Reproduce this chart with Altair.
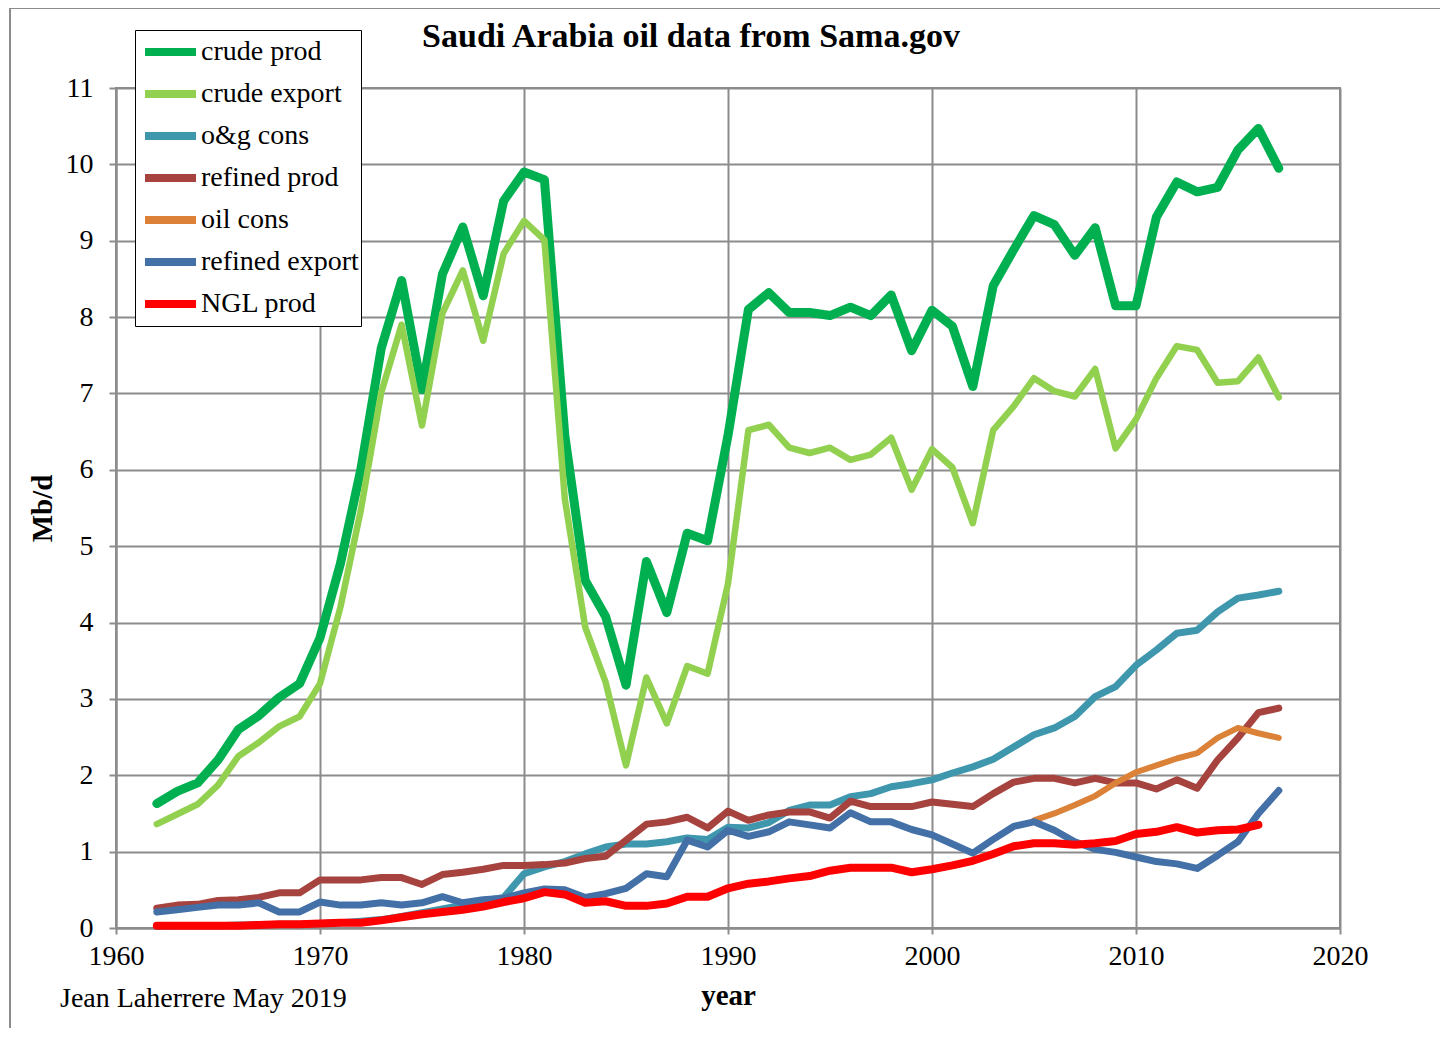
import altair as alt
import pandas as pd

years = list(range(1962, 2018))

crude_prod = [1.63, 1.79, 1.90, 2.20, 2.60, 2.78, 3.02, 3.20, 3.80, 4.77,
              6.00, 7.59, 8.48, 7.05, 8.56, 9.18, 8.28, 9.52, 9.90, 9.80,
              6.45, 4.55, 4.08, 3.18, 4.80, 4.13, 5.17, 5.07, 6.45, 8.10,
              8.32, 8.06, 8.06, 8.02, 8.13, 8.02, 8.29, 7.56, 8.09, 7.88,
              7.09, 8.41, 8.88, 9.33, 9.21, 8.81, 9.17, 8.15, 8.15, 9.31,
              9.77, 9.64, 9.70, 10.19, 10.47, 9.95]
crude_export = [1.36, 1.49, 1.62, 1.87, 2.25, 2.43, 2.64, 2.77, 3.20, 4.20,
                5.47, 7.01, 7.90, 6.58, 8.05, 8.61, 7.69, 8.83, 9.26, 9.01,
                5.62, 3.94, 3.22, 2.13, 3.28, 2.68, 3.43, 3.33, 4.51, 6.52,
                6.59, 6.29, 6.22, 6.29, 6.13, 6.20, 6.42, 5.74, 6.27, 6.03,
                5.30, 6.52, 6.83, 7.20, 7.03, 6.96, 7.32, 6.28, 6.66, 7.20,
                7.62, 7.57, 7.14, 7.16, 7.47, 6.95]
og_cons = [0.02, 0.03, 0.03, 0.03, 0.04, 0.04, 0.05, 0.05, 0.06, 0.07,
           0.09, 0.11, 0.15, 0.20, 0.25, 0.30, 0.35, 0.40, 0.71, 0.80,
           0.87, 0.97, 1.06, 1.10, 1.10, 1.13, 1.18, 1.16, 1.32, 1.31,
           1.38, 1.54, 1.61, 1.61, 1.72, 1.76, 1.85, 1.89, 1.94, 2.03,
           2.11, 2.21, 2.37, 2.53, 2.62, 2.77, 3.03, 3.16, 3.44, 3.64,
           3.86, 3.90, 4.14, 4.32, 4.36, 4.41]
refined_prod = [0.26, 0.30, 0.31, 0.36, 0.37, 0.40, 0.46, 0.46, 0.63, 0.63,
                0.63, 0.66, 0.66, 0.57, 0.70, 0.73, 0.77, 0.82, 0.82, 0.83,
                0.85, 0.91, 0.94, 1.15, 1.36, 1.39, 1.45, 1.31, 1.53, 1.41,
                1.48, 1.52, 1.52, 1.44, 1.66, 1.59, 1.59, 1.59, 1.65, 1.62,
                1.59, 1.76, 1.91, 1.96, 1.96, 1.90, 1.96, 1.90, 1.90, 1.82,
                1.94, 1.83, 2.20, 2.49, 2.82, 2.88]
oil_cons = [None] * 43 + [1.41, 1.50, 1.61, 1.73, 1.90, 2.04, 2.13, 2.22,
                          2.29, 2.49, 2.62, 2.55, 2.49]
refined_export = [0.21, 0.24, 0.27, 0.30, 0.30, 0.33, 0.21, 0.21, 0.34, 0.30,
                  0.30, 0.33, 0.30, 0.33, 0.41, 0.33, 0.37, 0.39, 0.46, 0.51,
                  0.50, 0.40, 0.45, 0.52, 0.71, 0.67, 1.15, 1.06, 1.28, 1.20,
                  1.26, 1.39, 1.35, 1.31, 1.51, 1.39, 1.39, 1.29, 1.22, 1.10,
                  0.98, 1.16, 1.33, 1.39, 1.28, 1.13, 1.03, 0.99, 0.93, 0.87,
                  0.84, 0.78, 0.95, 1.13, 1.50, 1.80]
ngl_prod = [0.03, 0.03, 0.03, 0.03, 0.03, 0.04, 0.05, 0.05, 0.06, 0.07,
            0.07, 0.10, 0.14, 0.18, 0.21, 0.24, 0.28, 0.34, 0.39, 0.47,
            0.44, 0.33, 0.35, 0.29, 0.29, 0.32, 0.41, 0.41, 0.52, 0.58,
            0.61, 0.65, 0.68, 0.75, 0.79, 0.79, 0.79, 0.73, 0.77, 0.82,
            0.88, 0.97, 1.07, 1.11, 1.11, 1.09, 1.11, 1.14, 1.23, 1.26,
            1.32, 1.25, 1.28, 1.29, 1.35, None]

series_names = ["crude prod", "crude export", "o&g cons", "refined  prod",
                "oil cons", "refined export", "NGL prod"]
series_values = [crude_prod, crude_export, og_cons, refined_prod,
                 oil_cons, refined_export, ngl_prod]
series_colors = ["#00B050", "#92D050", "#3F97AE", "#A6433F",
                 "#DB8238", "#4470A8", "#FF0000"]
series_widths = [9, 6.5, 7, 7, 6, 7, 8]

x_ticks = [1960, 1970, 1980, 1990, 2000, 2010, 2020]
y_ticks = list(range(0, 12))

title_text = "Saudi Arabia oil data from Sama.gov"
credit_text = "Jean Laherrere May 2019"

rows = []
for name, vals in zip(series_names, series_values):
    for yr, v in zip(years, vals):
        if v is not None:
            rows.append({"year": yr, "value": v, "series": name})
df = pd.DataFrame(rows)

FONT = "Liberation Serif"
GRID = "#8C8C8C"

x_enc = alt.X("year:Q",
              scale=alt.Scale(domain=[1960, 2020], nice=False, zero=False),
              axis=alt.Axis(values=x_ticks, format="d", title="year",
                            labelFlush=False,
                            titleFont=FONT, titleFontSize=29, titleFontWeight="bold",
                            titleX=612, titleY=67, titleBaseline="middle",
                            labelPadding=8, tickSize=6))
y_enc = alt.Y("value:Q",
              scale=alt.Scale(domain=[0, 11], nice=False),
              axis=alt.Axis(values=y_ticks, title="Mb/d",
                            labelFlush=False,
                            titleFont=FONT, titleFontSize=29, titleFontWeight="bold",
                            titleAngle=270, titleX=-74, titleY=420,
                            titleBaseline="middle", titleAlign="center",
                            labelPadding=16, tickSize=7))
color_enc = alt.Color("series:N",
                      scale=alt.Scale(domain=series_names, range=series_colors),
                      legend=alt.Legend(title=None, orient="none",
                                        legendX=19, legendY=-58,
                                        symbolType="stroke", symbolSize=2601,
                                        symbolStrokeWidth=8, symbolOffset=4,
                                        clipHeight=40,
                                        labelFont=FONT, labelFontSize=28,
                                        labelColor="black", labelOffset=1,
                                        labelLimit=400,
                                        rowPadding=2, padding=2,
                                        strokeColor="black", fillColor="white"))

base = alt.Chart(df)
layers = []
for name, w in zip(series_names, series_widths):
    layers.append(
        base.transform_filter(alt.datum.series == name)
        .mark_line(strokeWidth=w, strokeCap="round", strokeJoin="round")
        .encode(x=x_enc, y=y_enc, color=color_enc)
    )

one = pd.DataFrame({"t": [title_text]})
title_layer = alt.Chart(one).mark_text(
    font=FONT, fontSize=34, fontWeight="bold", align="center",
    baseline="middle", color="black"
).encode(x=alt.value(575), y=alt.value(-51), text="t:N")

credit = pd.DataFrame({"t": [credit_text]})
credit_layer = alt.Chart(credit).mark_text(
    font=FONT, fontSize=28, align="left", baseline="middle", color="black"
).encode(x=alt.value(-56), y=alt.value(911), text="t:N")

frame_top = alt.Chart(pd.DataFrame({"a": [0]})).mark_rule(
    color=GRID, strokeWidth=2
).encode(x=alt.value(-106), x2=alt.value(1340), y=alt.value(-80))
frame_left = alt.Chart(pd.DataFrame({"a": [0]})).mark_rule(
    color=GRID, strokeWidth=2
).encode(x=alt.value(-106), y=alt.value(-80), y2=alt.value(960))

chart = alt.layer(frame_top, frame_left, *layers, title_layer, credit_layer).properties(
    width=1224, height=840,
    autosize=alt.AutoSizeParams(type="none"),
    padding={"left": 108, "top": 80, "right": 100, "bottom": 100},
    background="white",
).configure_view(
    stroke=GRID, strokeWidth=2
).configure_axis(
    labelFont=FONT, labelFontSize=28, labelColor="black",
    grid=True, gridColor=GRID, gridWidth=2, gridOpacity=1,
    domainColor=GRID, domainWidth=2,
    tickColor=GRID, tickWidth=2, titleColor="black"
)

chart.save("out.html", embed_options={"renderer": "svg", "actions": False})
